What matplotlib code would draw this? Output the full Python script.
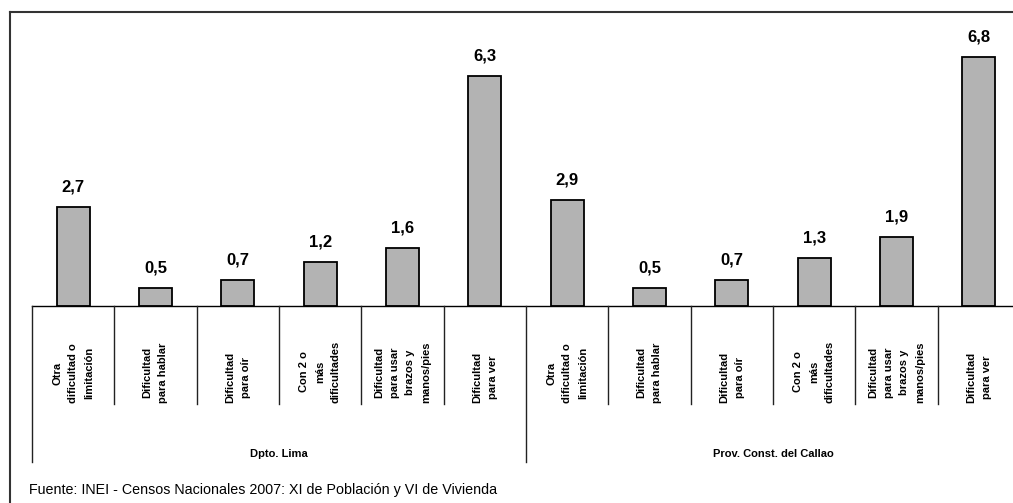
import matplotlib
matplotlib.use("Agg")
import matplotlib.pyplot as plt
from matplotlib.transforms import blended_transform_factory
from matplotlib.lines import Line2D

plt.rcParams['font.family'] = ['Liberation Sans', 'DejaVu Sans']

categories = [
    "Otra\ndificultad o\nlimitación",
    "Dificultad\npara hablar",
    "Dificultad\npara oír",
    "Con 2 o\nmás\ndificultades",
    "Dificultad\npara usar\nbrazos y\nmanos/pies",
    "Dificultad\npara ver",
]
groups = ["Dpto. Lima", "Prov. Const. del Callao"]
lima_values = [2.7, 0.5, 0.7, 1.2, 1.6, 6.3]
callao_values = [2.9, 0.5, 0.7, 1.3, 1.9, 6.8]
source_text = "Fuente: INEI - Censos Nacionales 2007: XI de Población y VI de Vivienda"

W, H = 1013, 503
fig = plt.figure(figsize=(W / 100, H / 100), dpi=100)

def fy(py):
    return (H - py) / H

base_py = 306
top_py = 20
left_px, right_px = 32, 1020
ax = fig.add_axes([left_px / W, fy(base_py), (right_px - left_px) / W, (base_py - top_py) / H])

values = lima_values + callao_values
labels = categories + categories
n = len(values)
xs = list(range(n))
ax.bar(xs, values, width=0.4, color="#b3b3b3", edgecolor="black", linewidth=1.3, zorder=2)
ax.set_xlim(-0.5, n - 0.5)
ax.set_ylim(0, (base_py - top_py) / 36.55)
for s in ["top", "right", "left", "bottom"]:
    ax.spines[s].set_visible(False)
ax.set_xticks([])
ax.set_yticks([])

for x, v in zip(xs, values):
    ax.annotate(f"{v:.1f}".replace(".", ","), (x, v), xytext=(0, 20 * 0.72),
                textcoords="offset points", ha="center", va="center",
                fontsize=12, fontweight="bold")

tr = blended_transform_factory(ax.transData, fig.transFigure)
# baseline
ax.add_line(Line2D([-0.5, n - 0.5], [fy(base_py), fy(base_py)], transform=tr,
                   color="black", lw=1.0, clip_on=False))
# separators
for i in range(n + 1):
    xb = i - 0.5
    bottom = 462 if i % 6 == 0 else 404
    ax.add_line(Line2D([xb, xb], [fy(base_py), fy(bottom)], transform=tr,
                       color="#222222", lw=1.0, clip_on=False))
for x, lab in zip(xs, labels):
    ax.text(x, fy(403), lab, transform=tr, rotation=90, ha="center", va="bottom",
            multialignment="center", fontsize=8, fontweight="bold", linespacing=1.72)
for gi, g in enumerate(groups):
    ax.text(gi * 6 + 2.5, fy(454), g, transform=tr, ha="center", va="center",
            fontsize=8, fontweight="bold")

fig.text(29 / W, fy(490), source_text, ha="left", va="center", fontsize=10.3)

# figure border (top and left)
fig.add_artist(Line2D([10 / W, 1.0], [fy(12), fy(12)], transform=fig.transFigure,
                      color="#333333", lw=1.5))
fig.add_artist(Line2D([10 / W, 10 / W], [fy(12), 0], transform=fig.transFigure,
                      color="#333333", lw=1.5))

fig.savefig("out.png", dpi=100)
